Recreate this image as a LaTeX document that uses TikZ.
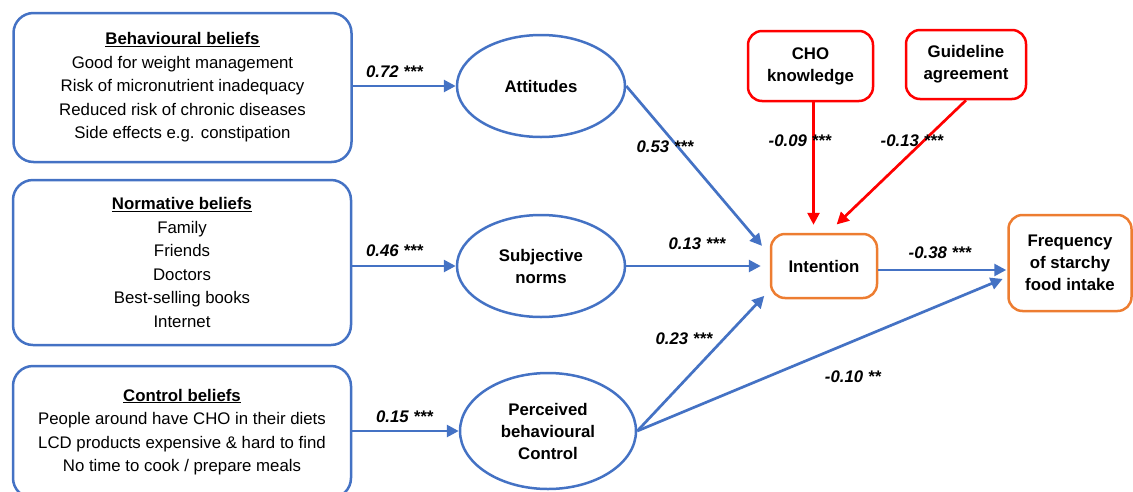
\documentclass[tikz,border=0pt]{standalone}
\usepackage{fontspec}
\setmainfont{Liberation Sans}
\usepackage{tikz}
\usetikzlibrary{shapes}
\usetikzlibrary{arrows.meta}
\definecolor{tpbblue}{HTML}{4472C4}
\definecolor{tpborange}{HTML}{ED7D31}
\definecolor{tpbred}{HTML}{FF0000}

\begin{document}
\begin{tikzpicture}[x=1pt, y=-1pt,
  belief/.style={draw=tpbblue, line width=2.5pt, rounded corners=20pt, minimum width=338pt, align=center, font=\fontsize{16.8}{23.5}\selectfont},
  construct/.style={ellipse, draw=tpbblue, line width=2.5pt, inner sep=0pt, align=center, font=\fontsize{16.8}{22}\selectfont\bfseries},
  outcome/.style={draw=tpborange, line width=2.5pt, rounded corners=14pt, align=center, font=\fontsize{16.8}{22}\selectfont\bfseries},
  modbox/.style={draw=tpbred, line width=2.5pt, rounded corners=14pt, align=center, font=\fontsize{16.8}{22}\selectfont\bfseries},
  link/.style={-{Triangle[length=12pt,width=12pt]}, tpbblue, line width=2.7pt},
  redlink/.style={-{Triangle[length=12pt,width=12pt]}, tpbred, line width=2.7pt},
  coef/.style={inner sep=1pt, font=\fontsize{16.8}{20}\selectfont\bfseries\itshape}
]
\useasboundingbox (0,0) rectangle (1133,491);
\clip (0,0) rectangle (1133,491);
\node (beh) [belief, minimum height=149pt] at (182.5,87.5) {\underline{\textbf{Behavioural beliefs}}\\Good for weight management\\Risk of micronutrient inadequacy\\Reduced risk of chronic diseases\\Side effects e.g. constipation};
\node (norm) [belief, minimum height=165pt] at (182,262.5) {\underline{\textbf{Normative beliefs}}\\Family\\Friends\\Doctors\\Best-selling books\\Internet};
\node (ctrl) [belief, minimum height=132pt] at (182,432) {\underline{\textbf{Control beliefs}}\\People around have CHO in their diets\\LCD products expensive \& hard to find\\No time to cook / prepare meals};
\node (att) [construct, minimum width=168pt, minimum height=102pt] at (541,86) {Attitudes};
\node (subj) [construct, minimum width=168pt, minimum height=102pt] at (541,266) {Subjective\\norms};
\node (pbc) [construct, minimum width=176pt, minimum height=116pt] at (548,431) {Perceived\\behavioural\\Control};
\node (int) [outcome, minimum width=106pt, minimum height=64pt] at (824,266) {Intention};
\node (freq) [outcome, minimum width=123pt, minimum height=96pt] at (1070,263) {Frequency\\of starchy\\food intake};
\node (cho) [modbox, minimum width=125pt, minimum height=70pt] at (810.5,66) {CHO\\knowledge};
\node (guide) [modbox, minimum width=120pt, minimum height=69pt] at (966,64.5) {Guideline\\agreement};
\draw [link] (beh.east |- att.west) -- (att.west);
\draw [link] (norm.east |- subj.west) -- (subj.west);
\draw [link] (ctrl.east |- pbc.west) -- (pbc.west);
\draw [link, shorten >=12pt] (att.east) -- ([yshift=11pt]int.west);
\draw [link, shorten >=9pt] (subj.east) -- (int.west);
\draw [link, shorten >=8pt] (pbc.east) -- ([yshift=-24pt]int.west);
\draw [link, shorten >=5pt] (pbc.east) -- ([yshift=-14pt]freq.west);
\draw [link, shorten >=1pt] ([yshift=-4pt]int.east) -- ([yshift=-4pt]int.east -| freq.west);
\draw [redlink, shorten >=8pt] ([xshift=3pt]cho.south) -- ([xshift=3pt]cho.south |- int.north);
\draw [redlink, shorten >=12pt] (guide.south) -- ([xshift=4pt]int.north);
\node (c72) [coef] at (394.5,72) {0.72 ***};
\node (c46) [coef] at (394.5,251) {0.46 ***};
\node (c15) [coef] at (404.5,417) {0.15 ***};
\node (c53) [coef] at (665,147) {0.53 ***};
\node (c13) [coef] at (697,244) {0.13 ***};
\node (c23) [coef] at (684,339) {0.23 ***};
\node (c10) [coef] at (853,377) {-0.10 **};
\node (c09) [coef] at (800,141) {-0.09 ***};
\node (c13b) [coef] at (912,141) {-0.13 ***};
\node (c38) [coef] at (940,253) {-0.38 ***};
\end{tikzpicture}
\end{document}
